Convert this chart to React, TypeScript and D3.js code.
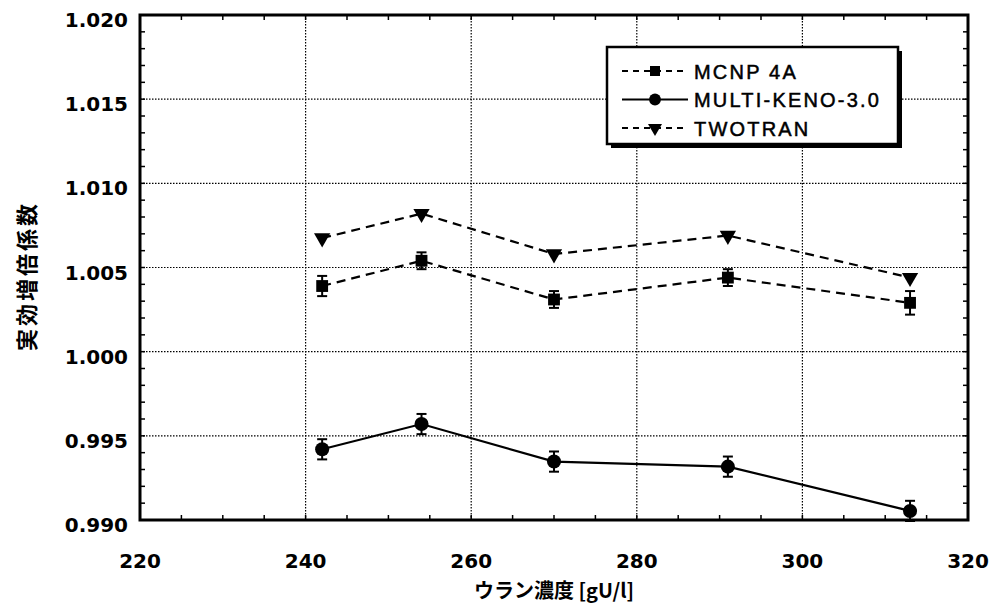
import { useEffect, useRef } from 'react';
import * as d3 from 'd3';

const xVals = [242, 254, 270, 291, 313];
const mcnp = [1.0039, 1.0054, 1.0031, 1.0044, 1.0029];
const mcnpErr = [0.0006, 0.0005, 0.0005, 0.0005, 0.0007];
const keno = [0.9942, 0.9957, 0.99347, 0.99317, 0.99054];
const kenoErr = [0.0006, 0.0006, 0.0006, 0.0006, 0.0006];
const twotran = [1.00675, 1.0082, 1.0058, 1.0069, 1.0044];
const xTicks = [220, 240, 260, 280, 300, 320];
const yTicks = [0.99, 0.995, 1.0, 1.005, 1.01, 1.015, 1.02];
const seriesNames = ['MCNP 4A', 'MULTI-KENO-3.0', 'TWOTRAN'];

const App = () => {
  const svgRef = useRef<SVGSVGElement>(null);

  useEffect(() => {
    const width = 999;
    const height = 603;
    const m = { left: 140, right: 968, top: 15, bottom: 520 };

    const x = d3.scaleLinear().domain([220, 320]).range([m.left, m.right]);
    const y = d3.scaleLinear().domain([0.99, 1.02]).range([m.bottom, m.top]);

    const svg = d3.select(svgRef.current)
      .attr('width', width)
      .attr('height', height);
    svg.selectAll('*').remove();

    svg.append('rect').attr('width', width).attr('height', height).attr('fill', 'white');

    const numFont = '"DejaVu Sans", sans-serif';
    const legFont = '"Liberation Sans", Arial, sans-serif';
    const jpFont = '"Noto Sans CJK JP", sans-serif';

    // grid
    const grid = svg.append('g')
      .attr('stroke', 'black')
      .attr('stroke-width', 1.2)
      .attr('stroke-dasharray', '1.5,1.5');
    grid.selectAll('.gx')
      .data(xTicks.slice(1, -1))
      .join('line')
      .attr('class', 'gx')
      .attr('x1', d => x(d)).attr('x2', d => x(d))
      .attr('y1', m.top).attr('y2', m.bottom);
    grid.selectAll('.gy')
      .data(yTicks.slice(1, -1))
      .join('line')
      .attr('class', 'gy')
      .attr('x1', m.left).attr('x2', m.right)
      .attr('y1', d => y(d)).attr('y2', d => y(d));

    // minor ticks, inward on all sides
    const ticks = svg.append('g').attr('stroke', 'black').attr('stroke-width', 1.5);
    const xMinor = d3.range(225, 320, 5);
    const yMinor = d3.range(0.991, 1.0195, 0.001);
    ticks.selectAll('.tb').data(xMinor).join('line').attr('class', 'tb')
      .attr('x1', d => x(d)).attr('x2', d => x(d))
      .attr('y1', m.bottom).attr('y2', m.bottom - 5);
    ticks.selectAll('.tt').data(xMinor).join('line').attr('class', 'tt')
      .attr('x1', d => x(d)).attr('x2', d => x(d))
      .attr('y1', m.top).attr('y2', m.top + 5);
    ticks.selectAll('.tl').data(yMinor).join('line').attr('class', 'tl')
      .attr('x1', m.left).attr('x2', m.left + 5)
      .attr('y1', d => y(d)).attr('y2', d => y(d));
    ticks.selectAll('.tr').data(yMinor).join('line').attr('class', 'tr')
      .attr('x1', m.right).attr('x2', m.right - 5)
      .attr('y1', d => y(d)).attr('y2', d => y(d));

    // frame
    svg.append('rect')
      .attr('x', m.left).attr('y', m.top)
      .attr('width', m.right - m.left).attr('height', m.bottom - m.top)
      .attr('fill', 'none').attr('stroke', 'black').attr('stroke-width', 3);

    // tick labels
    svg.append('g')
      .selectAll('text')
      .data(xTicks)
      .join('text')
      .attr('x', d => x(d))
      .attr('y', 568)
      .attr('text-anchor', 'middle')
      .attr('font-family', numFont)
      .attr('font-weight', 'bold')
      .attr('font-size', 20)
      .text(d => d);
    svg.append('g')
      .selectAll('text')
      .data(yTicks)
      .join('text')
      .attr('x', 128)
      .attr('y', d => y(d) + 12)
      .attr('text-anchor', 'end')
      .attr('font-family', numFont)
      .attr('font-weight', 'bold')
      .attr('font-size', 20)
      .text(d => d.toFixed(3));

    // axis titles
    svg.append('text')
      .attr('x', (m.left + m.right) / 2)
      .attr('y', 598)
      .attr('text-anchor', 'middle')
      .attr('font-family', jpFont)
      .attr('font-weight', 'bold')
      .attr('font-size', 20)
      .text('ウラン濃度 [gU/l]');
    svg.append('text')
      .attr('transform', `translate(35, 276) rotate(-90)`)
      .attr('text-anchor', 'middle')
      .attr('font-family', jpFont)
      .attr('font-weight', 'bold')
      .attr('font-size', 22)
      .attr('letter-spacing', 3)
      .text('実効増倍係数');

    const line = d3.line<[number, number]>()
      .x(d => x(d[0]))
      .y(d => y(d[1]));

    const pts = (vals: number[]) => xVals.map((v, i) => [v, vals[i]] as [number, number]);

    const plot = svg.append('g');

    const drawLine = (vals: number[], dashed: boolean) => {
      plot.append('path')
        .attr('d', line(pts(vals)))
        .attr('fill', 'none')
        .attr('stroke', 'black')
        .attr('stroke-width', 2.2)
        .attr('stroke-dasharray', dashed ? '9,6' : null);
    };
    drawLine(mcnp, true);
    drawLine(twotran, true);
    drawLine(keno, false);

    const drawErr = (vals: number[], errs: number[]) => {
      const g = plot.append('g').attr('stroke', 'black').attr('stroke-width', 2);
      xVals.forEach((v, i) => {
        const cx = x(v);
        const y0 = y(vals[i] - errs[i]);
        const y1 = y(vals[i] + errs[i]);
        g.append('line').attr('x1', cx).attr('x2', cx).attr('y1', y0).attr('y2', y1);
        g.append('line').attr('x1', cx - 5).attr('x2', cx + 5).attr('y1', y0).attr('y2', y0);
        g.append('line').attr('x1', cx - 5).attr('x2', cx + 5).attr('y1', y1).attr('y2', y1);
      });
    };
    drawErr(mcnp, mcnpErr);
    drawErr(keno, kenoErr);

    const square = d3.symbol().type(d3.symbolSquare).size(140);
    const circle = d3.symbol().type(d3.symbolCircle).size(155);
    const tri = d3.symbol().type(d3.symbolTriangle).size(115);

    plot.selectAll('.sq').data(pts(mcnp)).join('path').attr('class', 'sq')
      .attr('d', square)
      .attr('transform', d => `translate(${x(d[0])},${y(d[1])})`);
    plot.selectAll('.ci').data(pts(keno)).join('path').attr('class', 'ci')
      .attr('d', circle)
      .attr('transform', d => `translate(${x(d[0])},${y(d[1])})`);
    plot.selectAll('.tr2').data(pts(twotran)).join('path').attr('class', 'tr2')
      .attr('d', tri)
      .attr('transform', d => `translate(${x(d[0])},${y(d[1])}) rotate(180)`);

    // legend
    const lg = svg.append('g');
    const lx = 607, ly = 47, lw = 291, lh = 97;
    lg.append('rect').attr('x', lx + 4).attr('y', ly + 4).attr('width', lw).attr('height', lh).attr('fill', 'black');
    lg.append('rect').attr('x', lx).attr('y', ly).attr('width', lw).attr('height', lh)
      .attr('fill', 'white').attr('stroke', 'black').attr('stroke-width', 2.5);

    const legSyms = [
      d3.symbol().type(d3.symbolSquare).size(100),
      d3.symbol().type(d3.symbolCircle).size(110),
      d3.symbol().type(d3.symbolTriangle).size(85),
    ];
    seriesNames.forEach((name, i) => {
      const ry = ly + 24 + i * 28.5;
      lg.append('line')
        .attr('x1', 622).attr('x2', 688)
        .attr('y1', ry).attr('y2', ry)
        .attr('stroke', 'black').attr('stroke-width', 2)
        .attr('stroke-dasharray', i === 1 ? null : '6,5');
      lg.append('path')
        .attr('d', legSyms[i]())
        .attr('transform', `translate(655,${ry}) ${i === 2 ? 'rotate(180)' : ''}`);
      lg.append('text')
        .attr('x', 694)
        .attr('y', ry + 7.5)
        .attr('font-family', legFont)
        .attr('font-size', 20)
        .attr('letter-spacing', 2.2)
        .attr('stroke', 'black')
        .attr('stroke-width', 0.5)
        .text(name);
    });
  }, []);

  return <svg ref={svgRef} style={{ position: 'absolute', left: 0, top: 0 }}></svg>;
};

export default App;
